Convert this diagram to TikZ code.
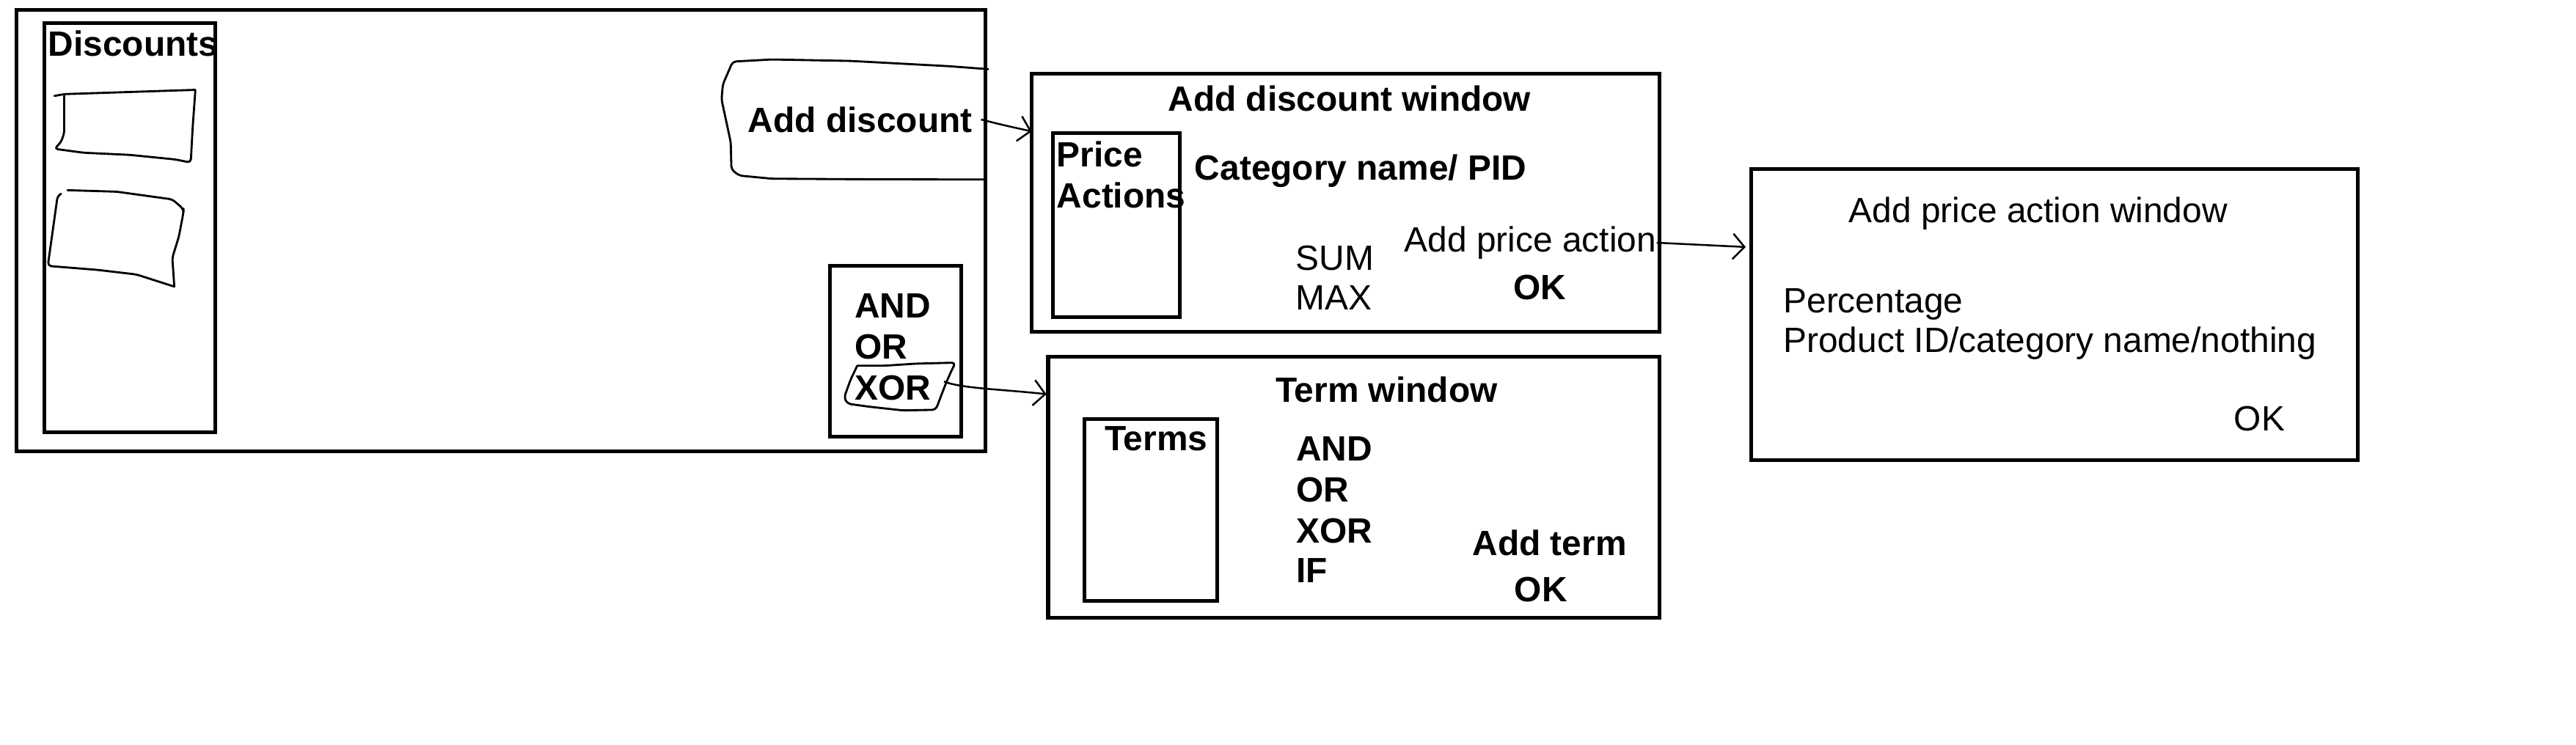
\documentclass[tikz,border=0pt]{standalone}
\usepackage{fontspec}
\setmainfont{Liberation Sans}
\usetikzlibrary{arrows.meta}

\tikzset{
    win/.style={draw, line width=1.6pt},
    txt/.style={anchor=base west, inner sep=0pt, font=\fontsize{15.2}{18}\selectfont},
    btxt/.style={txt, font=\fontsize{15.2}{18}\selectfont\bfseries},
    hand/.style={line width=0.9pt, line cap=round, line join=round, rounded corners=1.5pt},
    pen/.style={line width=0.8pt, -{Straight Barb[length=5pt, width=11pt]}},
}

\begin{document}
\begin{tikzpicture}[x=0.025cm, y=-0.025cm]
        \useasboundingbox (0,0) rectangle (1568,453.6);
        \coordinate (adwin) at (628,80);
        \coordinate (termin) at (637,240);
        \coordinate (pawin) at (1062.6,150.4);
        
        % Main window.
        \draw[win] (10,6) rectangle (600,275);
        \draw[win] (27,14) rectangle (131,263);
        \node[btxt] (discounts) at (29.1,34.3) {Discounts};
        \draw[hand] (33.1,58.4) -- (39.1,57.3) -- (79,56) -- (118.9,54.7);
        \draw[hand] (118.9,55.1) -- (117.3,77.3) -- (116.1,99) -- (106.9,97.1) -- (79,94.3) -- (51.1,93) -- (33.1,90.6) -- (37.1,86.6) -- (39.1,81) -- (39.1,58.4);
        \draw[hand] (41.1,115.8) -- (71,116.7) -- (104.9,121.4) -- (111.7,127.3) -- (111.7,129.1) -- (108.9,144) -- (104.9,156.9) -- (106.1,174.5);
        \draw[hand] (106.1,174.5) -- (83,167.1) -- (59.1,164.3) -- (29.1,161.9) -- (35.1,119) -- (37.1,118);
        
        \draw[hand] (601.5,42.1) -- (577.6,40.3) -- (517.8,37.1) -- (469.9,36.2) -- (446,37.5) -- (440,51.4) -- (439.2,60.6) -- (442,73.6) -- (444.8,86.6) -- (445.2,103.2) -- (450,106.9) -- (469.9,108.8) -- (517.8,109.1) -- (599.6,109.3);
        \node[btxt] (adddisc) at (455,80.4) {Add discount};
        
        \draw[win] (505,162) rectangle (585,266);
        \node[btxt] (and) at (520,193.4) {AND};
        \node[btxt] (or) at (520,218.6) {OR};
        \node[btxt] (xor) at (520,243.6) {XOR};
        \draw[hand] (521.8,222.7) -- (537.7,222.7) -- (557.7,221.4) -- (581.6,220.8) -- (579,226) -- (575.6,233.8) -- (569.6,249.5) -- (549.7,249.9) -- (529.7,247.7) -- (515.8,245.8) -- (513.8,242.1) -- (517.8,231) -- (521.8,222.7);
        
        % Add discount window.
        \draw[win] (628,45) rectangle (1010,202);
        \node[btxt] (adtitle) at (710.7,67.8) {Add discount window};
        \draw[win] (641,81) rectangle (718,193);
        \node[btxt] (price) at (643,101.6) {Price};
        \node[btxt] (actions) at (643,126.7) {Actions};
        \node[btxt] (catpid) at (727,109.6) {Category name/ PID};
        \node[txt] (sum) at (788.5,164.3) {SUM};
        \node[txt] (max) at (788.5,188.7) {MAX};
        \node[txt] (addpa) at (854.6,153.3) {Add price action};
        \node[btxt] (adok) at (920.8,182.5) {OK};
        
        % Term window.
        \draw[win] (638,217) rectangle (1010,376);
        \node[btxt] (termtitle) at (776.2,244.8) {Term window};
        \draw[win] (660,255) rectangle (741,366);
        \node[btxt] (terms) at (672.2,274.5) {Terms};
        \node[btxt] (tand) at (788.7,280.6) {AND};
        \node[btxt] (tor) at (788.7,305.7) {OR};
        \node[btxt] (txor) at (788.7,330.8) {XOR};
        \node[btxt] (tif) at (788.7,354.8) {IF};
        \node[btxt] (addterm) at (896,338.3) {Add term};
        \node[btxt] (termok) at (921.6,366.2) {OK};
        
        % Add price action window.
        \draw[win] (1066,103) rectangle (1435,280);
        \node[txt] (patitle) at (1125.1,135.3) {Add price action window};
        \node[txt] (percent) at (1085.3,190.4) {Percentage};
        \node[txt] (target) at (1085.3,214.6) {Product ID/category name/nothing};
        \node[txt] (paok) at (1359.6,262.3) {OK};
        
        % Arrows.
        \draw[pen] ([xshift=3.6pt]adddisc.east) .. controls (610,76) .. (adwin);
        \draw[pen] ([xshift=5.5pt, yshift=2.8pt]xor.east) .. controls (585.6,236.6) and (610,237) .. (termin);
        \draw[pen] (addpa.east) -- (pawin);
        
    \end{tikzpicture}
\end{document}
